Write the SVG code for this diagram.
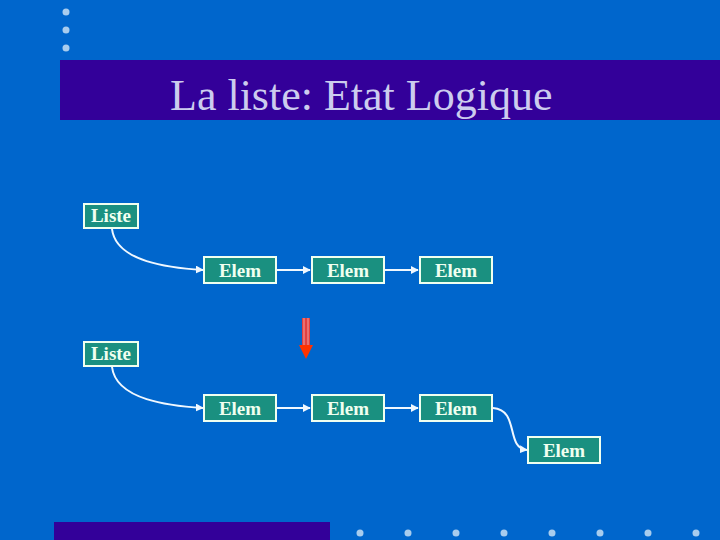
<svg xmlns="http://www.w3.org/2000/svg" width="720" height="540" viewBox="0 0 720 540">
<style>
.box{fill:#1a9080;stroke:#f0fff0;stroke-width:2}
.lbl{font-family:"Liberation Serif",serif;font-size:19px;font-weight:bold;fill:#f0fff0;text-anchor:middle}
.con{fill:none;stroke:#f0f8ff;stroke-width:2}
.dot{fill:#a8ccee}
</style>
<defs>
<marker id="ah" viewBox="0 0 10 10" refX="9" refY="5" markerWidth="4" markerHeight="4" orient="auto" markerUnits="strokeWidth">
<path d="M0,0 L10,5 L0,10 z" fill="#f0f8ff"/>
</marker>
</defs>
<rect width="720" height="540" fill="#0066cc"/>
<rect x="60" y="60" width="660" height="60" fill="#330099"/>
<rect x="54" y="522" width="276" height="18" fill="#330099"/>
<g id="dots">
<circle class="dot" cx="66" cy="12" r="3.5"/>
<circle class="dot" cx="66" cy="30" r="3.5"/>
<circle class="dot" cx="66" cy="48" r="3.5"/>
<circle class="dot" cx="360" cy="533" r="3.5"/>
<circle class="dot" cx="408" cy="533" r="3.5"/>
<circle class="dot" cx="456" cy="533" r="3.5"/>
<circle class="dot" cx="504" cy="533" r="3.5"/>
<circle class="dot" cx="552" cy="533" r="3.5"/>
<circle class="dot" cx="600" cy="533" r="3.5"/>
<circle class="dot" cx="648" cy="533" r="3.5"/>
<circle class="dot" cx="696" cy="533" r="3.5"/>
</g>
<text x="170" y="110" font-family="Liberation Serif, serif" font-size="44" fill="#ccccee">La liste: Etat Logique</text>
<g id="connectors">
<path class="con" d="M112,229 C116,262 170,268 203,270" marker-end="url(#ah)"/>
<path class="con" d="M277,270 L310,270" marker-end="url(#ah)"/>
<path class="con" d="M385,270 L418,270" marker-end="url(#ah)"/>
<path class="con" d="M112,367 C116,400 170,406 203,408" marker-end="url(#ah)"/>
<path class="con" d="M277,408 L310,408" marker-end="url(#ah)"/>
<path class="con" d="M385,408 L418,408" marker-end="url(#ah)"/>
<path class="con" d="M493,408 C520,410 505,448 527,450" marker-end="url(#ah)"/>
</g>
<g id="redarrow">
<rect x="302" y="318" width="8" height="28" fill="#e04040"/>
<line x1="304" y1="318" x2="304" y2="346" stroke="#f0a0a0" stroke-width="1"/>
<line x1="308" y1="318" x2="308" y2="346" stroke="#f0a0a0" stroke-width="1"/>
<path d="M299,345 L313,345 L306,359 z" fill="#ff3300"/>
</g>
<g id="liste1"><rect class="box" x="84" y="204" width="54" height="24"/><text class="lbl" x="111" y="222">Liste</text></g>
<g id="elem1"><rect class="box" x="204" y="257" width="72" height="26"/><text class="lbl" x="240" y="277">Elem</text></g>
<g id="elem2"><rect class="box" x="312" y="257" width="72" height="26"/><text class="lbl" x="348" y="277">Elem</text></g>
<g id="elem3"><rect class="box" x="420" y="257" width="72" height="26"/><text class="lbl" x="456" y="277">Elem</text></g>
<g id="liste2"><rect class="box" x="84" y="342" width="54" height="24"/><text class="lbl" x="111" y="360">Liste</text></g>
<g id="elem4"><rect class="box" x="204" y="395" width="72" height="26"/><text class="lbl" x="240" y="415">Elem</text></g>
<g id="elem5"><rect class="box" x="312" y="395" width="72" height="26"/><text class="lbl" x="348" y="415">Elem</text></g>
<g id="elem6"><rect class="box" x="420" y="395" width="72" height="26"/><text class="lbl" x="456" y="415">Elem</text></g>
<g id="elem7"><rect class="box" x="528" y="437" width="72" height="26"/><text class="lbl" x="564" y="457">Elem</text></g>
</svg>
